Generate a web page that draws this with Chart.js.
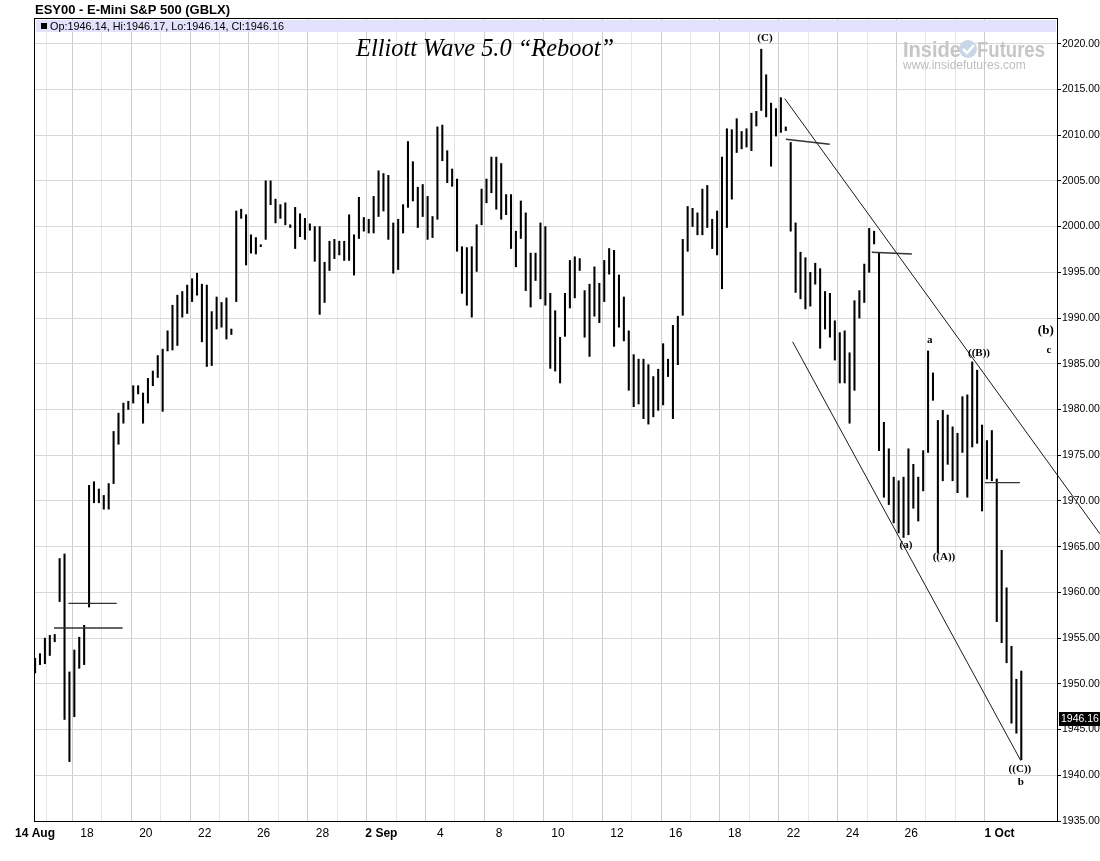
<!DOCTYPE html>
<html>
<head>
<meta charset="utf-8">
<script src="https://cdn.jsdelivr.net/npm/chart.js@4.4.1/dist/chart.umd.min.js"></script>
<style>
  html, body { margin: 0; padding: 0; background: #fff; }
  #wrap { width: 1100px; height: 861px; position: relative; }
</style>
</head>
<body>
<div id="wrap"><canvas id="chart" width="1100" height="861"></canvas></div>
<script>
// ── DATA ──────────────────────────────────────────────────────────────────────
// hourly-ish bars, 6 per trading day, first bar part way through 14 Aug
var BARS_PER_DAY = 6;
var FIRST_DAY = 0.237;
var X_MIN = 0.234, X_MAX = 34.95;

var lows = [
  1951.2, 1952.1, 1952.2, 1953.1, 1954.6, 1959.0, 1946.1, 1941.5, 1946.4, 1951.7,
  1952.1, 1958.4, 1969.8, 1969.8, 1969.1, 1969.1, 1971.9, 1976.2, 1978.5, 1980.0,
  1980.7, 1981.7, 1978.5, 1980.7, 1982.6, 1983.5, 1979.8, 1986.4, 1986.5, 1987.0,
  1990.1, 1990.5, 1991.8, 1992.5, 1987.4, 1984.7, 1984.8, 1988.8, 1989.0, 1987.7,
  1988.2, 1991.8, 2000.9, 1995.8, 1997.1, 1997.0, 1997.8, 1998.6, 2002.4, 2000.4,
  2000.9, 2000.2, 1999.9, 1997.6, 1998.9, 1998.6, 1999.6, 1996.2, 1990.4, 1991.7,
  1995.2, 1996.5, 1996.9, 1996.3, 1996.3, 1994.7, 1998.7, 1999.5, 1999.3, 1999.3,
  2001.1, 2001.7, 1998.6, 1994.9, 1995.3, 1999.3, 2002.1, 2002.8, 1999.9, 2001.1,
  1998.6, 1998.8, 2000.8, 2007.2, 2004.8, 2004.4, 1997.3, 1992.7, 1991.4, 1990.1,
  1995.1, 2000.2, 2002.6, 2003.7, 2001.9, 2000.8, 2001.3, 1997.6, 1995.6, 1998.7,
  1993.0, 1991.2, 1994.1, 1992.1, 1991.4, 1984.5, 1984.2, 1982.9, 1988.0, 1991.1,
  1992.2, 1995.2, 1987.9, 1985.8, 1990.2, 1989.5, 1991.8, 1994.8, 1986.9, 1989.0,
  1987.5, 1982.1, 1980.3, 1980.6, 1979.0, 1978.4, 1979.2, 1979.9, 1980.5, 1983.6,
  1979.0, 1984.9, 1990.3, 1997.3, 2000.0, 1999.1, 1999.1, 1999.9, 1997.6, 1996.9,
  1993.2, 1999.9, 2003.0, 2008.1, 2008.5, 2008.7, 2008.3, 2011.0, 2012.7, 2012.0,
  2006.6, 2009.9, 2010.3, 2010.5, 1999.5, 1992.8, 1992.1, 1991.0, 1991.3, 1993.7,
  1986.7, 1988.8, 1987.9, 1985.4, 1982.9, 1982.9, 1978.5, 1982.1, 1990.0, 1991.7,
  1995.0, 1998.1, 1975.5, 1970.4, 1969.6, 1967.6, 1966.5, 1966.0, 1966.3, 1969.2,
  1967.8, 1971.1, 1975.3, 1981.0, 1964.3, 1972.2, 1974.0, 1972.2, 1970.9, 1975.3,
  1970.4, 1975.9, 1976.3, 1968.9, 1972.4, 1972.2, 1956.8, 1954.5, 1952.3, 1945.7,
  1944.6, 1941.7
];
var highs = [
  1952.8, 1953.3, 1955.0, 1955.3, 1955.4, 1963.7, 1964.2, 1951.3, 1953.7, 1955.1,
  1956.4, 1971.7, 1972.1, 1971.3, 1970.6, 1971.9, 1977.6, 1979.6, 1980.7, 1980.9,
  1982.6, 1982.6, 1981.8, 1983.4, 1984.2, 1985.9, 1986.6, 1988.6, 1991.4, 1992.5,
  1992.9, 1993.6, 1994.3, 1994.9, 1993.7, 1993.6, 1990.7, 1992.3, 1991.7, 1992.2,
  1988.8, 2001.7, 2001.9, 2001.3, 1999.1, 1998.8, 1998.0, 2005.0, 2005.0, 2003.0,
  2002.4, 2002.6, 2000.2, 2002.1, 2001.4, 2000.9, 2000.3, 2000.0, 2000.0, 1996.1,
  1998.4, 1998.6, 1998.4, 1998.4, 2001.3, 1999.1, 2003.2, 2001.0, 2000.8, 2003.3,
  2006.1, 2005.8, 2005.6, 2000.4, 2000.8, 2002.4, 2009.3, 2007.1, 2004.3, 2004.6,
  2003.3, 2001.1, 2010.9, 2011.1, 2008.3, 2006.3, 2005.2, 1997.8, 1997.7, 1997.8,
  2000.2, 2004.1, 2005.2, 2007.6, 2007.6, 2006.9, 2003.5, 2003.5, 1999.5, 2002.8,
  2001.5, 1997.1, 1997.1, 2000.4, 2000.0, 1992.7, 1990.8, 1987.9, 1992.7, 1996.3,
  1996.7, 1996.5, 1993.0, 1993.7, 1995.6, 1993.8, 1996.3, 1997.6, 1997.4, 1994.7,
  1992.3, 1988.6, 1986.0, 1985.5, 1985.5, 1984.9, 1983.6, 1984.4, 1987.2, 1985.5,
  1989.2, 1990.2, 1998.6, 2002.2, 2002.0, 2001.5, 2004.1, 2004.5, 2000.8, 2001.7,
  2007.6, 2010.7, 2010.6, 2011.8, 2010.4, 2010.7, 2012.4, 2012.6, 2019.4, 2016.6,
  2013.5, 2012.9, 2014.1, 2010.9, 2009.2, 2000.4, 1997.2, 1996.6, 1995.0, 1996.0,
  1995.4, 1992.9, 1992.7, 1989.7, 1988.4, 1988.6, 1986.2, 1991.9, 1993.0, 1995.9,
  1999.8, 1999.5, 1997.1, 1978.6, 1975.7, 1972.6, 1972.2, 1972.6, 1975.7, 1974.0,
  1972.6, 1975.5, 1986.4, 1984.0, 1978.8, 1979.9, 1979.4, 1978.1, 1977.4, 1981.4,
  1981.6, 1985.2, 1984.3, 1978.3, 1976.6, 1977.7, 1972.4, 1964.6, 1960.5, 1954.1,
  1950.5, 1951.4
];
var lastOHLC = { o: 1946.14, h: 1946.17, l: 1946.14, c: 1946.16 };

// trading days, index = day number on the x axis
var dayNames = ['14 Aug', '15', '18', '19', '20', '21', '22', '25', '26', '27', '28', '29',
  '2 Sep', '3', '4', '5', '8', '9', '10', '11', '12', '15', '16', '17', '18', '19',
  '22', '23', '24', '25', '26', '29', '30', '1 Oct', '2'];
var labeledDays = [2, 4, 6, 8, 10, 12, 14, 16, 18, 20, 22, 24, 26, 28, 30, 33];
var boldDays = [0, 12, 33];
var priceTicks = [1935, 1940, 1945, 1950, 1955, 1960, 1965, 1970, 1975, 1980, 1985,
  1990, 1995, 2000, 2005, 2010, 2015, 2020];

// Elliott wave annotations (day, price)
var waveText  = ['(C)', '(a)', '((A))', 'a', '((B))', '(b)', 'c', '((C))', 'b'];
var waveDay   = [25.03, 29.82, 31.11, 30.63, 32.30, 34.57, 34.68, 33.69, 33.72];
var wavePrice = [2020.6, 1965.2, 1963.9, 1987.6, 1986.2, 1988.6, 1986.5, 1940.7, 1939.2];

// drawn lines: [day1, price1, day2, price2]
var channelLines = [
  [25.70, 2014.0, 36.41, 1966.4],
  [25.97, 1987.4, 33.72, 1941.6]
];
var levelLines = [
  [0.88, 1956.1, 3.21, 1956.1],
  [1.37, 1958.8, 3.01, 1958.8],
  [25.74, 2009.55, 27.23, 2009.0],
  [28.66, 1997.2, 30.02, 1997.0],
  [32.50, 1972.0, 33.69, 1972.0]
];

// ── CHART ─────────────────────────────────────────────────────────────────────
var FONT = '"Liberation Sans", Arial, sans-serif';
var SERIF = '"Liberation Serif", "Times New Roman", serif';

var barData = lows.map(function(lo, i) {
  return { x: FIRST_DAY + i / BARS_PER_DAY, y: [lo, highs[i]] };
});

function lineSet(seg, color, width) {
  return {
    type: 'line',
    data: [{ x: seg[0], y: seg[1] }, { x: seg[2], y: seg[3] }],
    borderColor: color,
    borderWidth: width,
    pointRadius: 0,
    clip: false,
    order: 1
  };
}

var datasets = [{
  type: 'bar',
  data: barData,
  backgroundColor: '#000',
  barThickness: 1.4,
  minBarLength: 2,
  order: 2
}];
channelLines.forEach(function(s) { datasets.push(lineSet(s, '#1a1a1a', 1)); });
levelLines.forEach(function(s) { datasets.push(lineSet(s, '#333', 1.4)); });

var overlay = {
  id: 'overlay',
  beforeDatasetsDraw: function(chart) {
    var ctx = chart.ctx, a = chart.chartArea;
    ctx.save();
    // info strip
    ctx.fillStyle = '#e2e2fc';
    ctx.fillRect(a.left + 1, a.top + 1, a.right - a.left - 2, 12);
    ctx.fillStyle = '#000';
    ctx.fillRect(41, a.top + 4, 6, 6);
    ctx.font = '11px ' + FONT;
    ctx.textBaseline = 'middle';
    ctx.fillText('Op:' + lastOHLC.o.toFixed(2) + ', Hi:' + lastOHLC.h.toFixed(2) +
      ', Lo:' + lastOHLC.l.toFixed(2) + ', Cl:' + lastOHLC.c.toFixed(2), 50, a.top + 7.5, 234);

    // watermark
    ctx.fillStyle = '#c6c6c6';
    ctx.font = 'bold 22px ' + FONT;
    ctx.textBaseline = 'alphabetic';
    ctx.fillText('Inside', 903, 57, 58);
    ctx.fillText('Futures', 977, 57, 68);
    ctx.beginPath();
    ctx.arc(968, 49, 9, 0, Math.PI * 2);
    ctx.fillStyle = '#c8d6e6';
    ctx.fill();
    ctx.strokeStyle = '#fff';
    ctx.lineWidth = 2.5;
    ctx.beginPath();
    ctx.moveTo(963, 49); ctx.lineTo(967, 53); ctx.lineTo(974, 45);
    ctx.stroke();
    ctx.fillStyle = '#bdbdbd';
    ctx.font = '12px ' + FONT;
    ctx.fillText('www.insidefutures.com', 903, 69, 142);
    ctx.restore();
  },
  afterDraw: function(chart) {
    var ctx = chart.ctx, a = chart.chartArea;
    var xs = chart.scales.x, ys = chart.scales.y;
    ctx.save();
    // plot frame
    ctx.strokeStyle = '#000';
    ctx.lineWidth = 1;
    ctx.strokeRect(a.left - 0.5, a.top - 0.5, a.right - a.left + 1, a.bottom - a.top + 1);

    // header
    ctx.fillStyle = '#000';
    ctx.font = 'bold 13px ' + FONT;
    ctx.textBaseline = 'middle';
    ctx.fillText('ESY00 - E-Mini S&P 500 (GBLX)', 35, 10, 198);

    // title
    ctx.font = 'italic 26px ' + SERIF;
    ctx.textAlign = 'center';
    ctx.textBaseline = 'alphabetic';
    ctx.fillText('Elliott Wave 5.0 \u201cReboot\u201d', 485, 56, 258);

    // wave labels
    ctx.textBaseline = 'middle';
    for (var i = 0; i < waveText.length; i++) {
      var sz = waveText[i] === '(b)' ? 13 : 11;
      ctx.font = 'bold ' + sz + 'px ' + SERIF;
      ctx.fillText(waveText[i], xs.getPixelForValue(waveDay[i]), ys.getPixelForValue(wavePrice[i]));
    }

    // last price box
    var py = Math.round(ys.getPixelForValue(lastOHLC.c));
    ctx.fillStyle = '#000';
    ctx.fillRect(a.right + 2, py - 7, 1100 - a.right - 2, 14);
    ctx.fillStyle = '#fff';
    ctx.font = '10.5px ' + FONT;
    ctx.textAlign = 'left';
    ctx.fillText(lastOHLC.c.toFixed(2), a.right + 4, py + 0.5);
    ctx.restore();
  }
};

new Chart(document.getElementById('chart'), {
  data: { datasets: datasets },
  plugins: [overlay],
  options: {
    responsive: false,
    devicePixelRatio: 1,
    animation: false,
    layout: { padding: { left: 35, top: 19, right: 0, bottom: 0 } },
    plugins: { legend: { display: false }, tooltip: { enabled: false } },
    scales: {
      x: {
        type: 'linear',
        position: 'bottom',
        min: X_MIN,
        max: X_MAX,
        offset: false,
        afterFit: function(s) { s.height = 40; },
        afterBuildTicks: function(s) {
          var t = [{ value: X_MIN }];
          for (var d = 1; d <= 33; d++) t.push({ value: d });
          s.ticks = t;
        },
        grid: {
          color: function(c) {
            var v = c.tick ? c.tick.value : 0;
            if (v < 1) return 'rgba(0,0,0,0)';
            return labeledDays.indexOf(v) >= 0 ? '#cdcdcd' : '#e6e6e6';
          },
          drawTicks: false
        },
        border: { color: '#000' },
        ticks: {
          autoSkip: false,
          maxRotation: 0,
          padding: 5,
          color: '#000',
          font: function(c) {
            var v = c.tick ? c.tick.value : 99;
            var bold = v < 1 || boldDays.indexOf(v) >= 0;
            return { family: FONT, size: 12, weight: bold ? 'bold' : 'normal' };
          },
          callback: function(v) {
            if (v < 1) return dayNames[0];
            return labeledDays.indexOf(v) >= 0 ? dayNames[v] : '';
          }
        }
      },
      y: {
        type: 'linear',
        position: 'right',
        min: 1935,
        max: 2022.7,
        afterFit: function(s) { s.width = 43; },
        afterBuildTicks: function(s) {
          s.ticks = priceTicks.map(function(v) { return { value: v }; });
        },
        grid: { color: '#d8d8d8', tickColor: '#000', tickLength: 4 },
        border: { color: '#000' },
        ticks: {
          padding: 1,
          color: '#000',
          font: { family: FONT, size: 10.5 },
          callback: function(v) { return Number(v).toFixed(2); }
        }
      }
    }
  }
});
</script>
</body>
</html>
